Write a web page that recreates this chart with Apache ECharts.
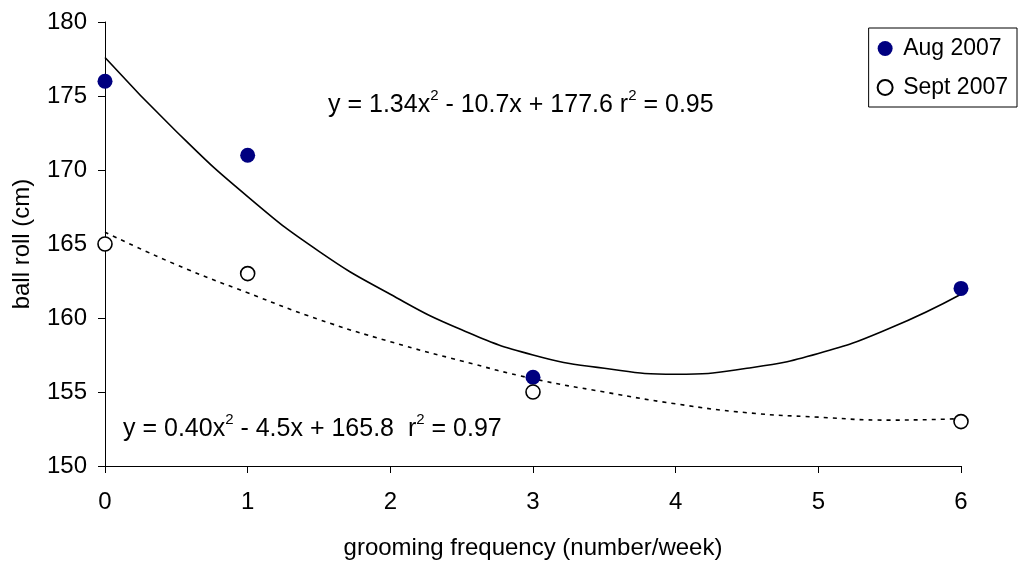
<!DOCTYPE html>
<html><head><meta charset="utf-8">
<script src="https://cdn.jsdelivr.net/npm/echarts@6/dist/echarts.min.js"></script>
<style>html,body{margin:0;padding:0;background:#fff}#c{width:1018px;height:565px}</style>
</head><body><div id="c"></div>
<script>
const augPoints = [[0,176],[1,171],[3,156],[6,162]];
const septPoints = [[0,165],[1,163],[3,155],[6,153]];
const trendX = [0,0.5,1,1.5,2,2.5,3,3.5,4,4.5,5,5.5,6];
const augTrend = [177.6,172.6,168.2,164.5,161.6,159.2,157.5,156.6,156.2,156.6,157.6,159.3,161.6];
const septTrend = [165.8,163.6,161.7,159.9,158.4,157.1,155.9,155.0,154.2,153.6,153.3,153.1,153.2];
const augEq = '{m|y = 1.34x}{s|2}{m| - 10.7x + 177.6 r}{s|2}{m| = 0.95}';
const septEq = '{m|y = 0.40x}{s|2}{m| - 4.5x + 165.8  r}{s|2}{m| = 0.97}';

const font = '"Liberation Sans", Arial, sans-serif';
const chart = echarts.init(document.getElementById('c'));
const zip = (xs, ys) => xs.map((x, i) => [x, ys[i]]);
const supRich = {
  m: { fontSize: 25, fontFamily: font, fill: '#000', lineHeight: 30, verticalAlign: 'bottom' },
  s: { fontSize: 15, fontFamily: font, fill: '#000', lineHeight: 15, verticalAlign: 'top' }
};
chart.setOption({
  animation: false,
  textStyle: { fontFamily: font },
  grid: { left: 105, right: 57, top: 22, bottom: 98 },
  legend: {
    data: ['Aug 2007', 'Sept 2007'],
    orient: 'vertical', right: 1, top: 28,
    borderColor: '#000', borderWidth: 1, borderRadius: 0,
    padding: [9, 9, 8, 8], itemGap: 16,
    itemWidth: 26, itemHeight: 15, icon: 'circle',
    textStyle: { fontSize: 23, color: '#000', fontFamily: font }
  },
  xAxis: {
    type: 'value', min: 0, max: 6, interval: 1,
    name: 'grooming frequency (number/week)', nameLocation: 'middle', nameGap: 70,
    nameTextStyle: { fontSize: 24, color: '#000', fontFamily: font },
    axisLine: { lineStyle: { color: '#000', width: 1 } },
    axisTick: { length: 7, lineStyle: { color: '#000' } },
    axisLabel: { fontSize: 24, color: '#000', margin: 24, fontFamily: font },
    splitLine: { show: false }
  },
  yAxis: {
    type: 'value', min: 150, max: 180, interval: 5,
    name: 'ball roll (cm)', nameLocation: 'middle', nameGap: 71, nameRotate: 90,
    nameTextStyle: { fontSize: 24, color: '#000', fontFamily: font },
    axisLine: { show: true, lineStyle: { color: '#000', width: 1 } },
    axisTick: { show: true, length: 7, lineStyle: { color: '#000' } },
    axisLabel: { fontSize: 24, color: '#000', margin: 18, fontFamily: font },
    splitLine: { show: false }
  },
  series: [
    { name: 'augTrend', type: 'line', data: zip(trendX, augTrend), smooth: true, symbol: 'none',
      lineStyle: { color: '#000', width: 1.6 }, z: 1, silent: true },
    { name: 'septTrend', type: 'line', data: zip(trendX, septTrend), smooth: true, symbol: 'none',
      lineStyle: { color: '#000', width: 1.6, type: [4, 5] }, z: 1, silent: true },
    { name: 'Aug 2007', type: 'scatter', data: augPoints, symbolSize: 15,
      itemStyle: { color: '#000080', opacity: 1 }, z: 3 },
    { name: 'Sept 2007', type: 'scatter', data: septPoints, symbolSize: 14,
      itemStyle: { color: '#fff', borderColor: '#000', borderWidth: 1.6, opacity: 1 }, z: 3 }
  ],
  graphic: [
    { type: 'text', left: 328, top: 88, z: 10,
      style: { text: augEq, fontFamily: font, fill: '#000', rich: supRich } },
    { type: 'text', left: 123, top: 412, z: 10,
      style: { text: septEq, fontFamily: font, fill: '#000', rich: supRich } }
  ]
});
</script></body></html>
